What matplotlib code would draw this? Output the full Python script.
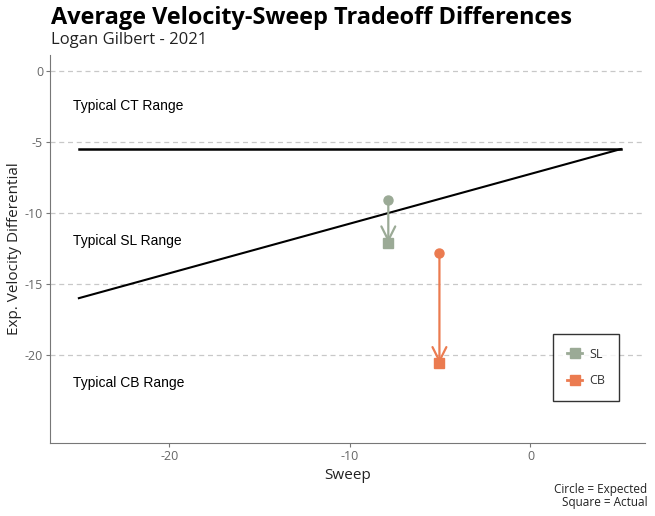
import matplotlib
matplotlib.use("Agg")
import matplotlib.pyplot as plt
from matplotlib.lines import Line2D

# Data
pitches = ["SL", "CB"]
sweep = [-7.87, -5.04]
expected = [-9.1, -12.8]
actual = [-12.1, -20.6]
colors = ["#9BAA96", "#EB7B50"]

# boundary lines between typical ranges
ct_line_x = [-25, 5]
ct_line_y = [-5.5, -5.5]
sl_line_x = [-25, 5]
sl_line_y = [-16.0, -5.5]

range_labels = ["Typical CT Range", "Typical SL Range", "Typical CB Range"]
range_label_y = [-2.5, -12.0, -22.0]

plt.rcParams['font.family'] = ['Open Sans', 'DejaVu Sans']
plt.rcParams['axes.unicode_minus'] = False

fig = plt.figure(figsize=(6.55, 5.16), dpi=100)
ax = fig.add_axes([0.0763, 0.1415, 0.9087, 0.752])

ax.set_xlim(-26.6, 6.35)
ax.set_ylim(-26.2, 1.13)

ax.plot(ct_line_x, ct_line_y, color="black", lw=1.8)
ax.plot(sl_line_x, sl_line_y, color="black", lw=1.5)

for lab, y in zip(range_labels, range_label_y):
    ax.text(-25.3, y, lab, fontsize=10, family=['Liberation Sans'], va="center", ha="left")

for i in range(len(pitches)):
    ax.annotate("", xy=(sweep[i], actual[i]), xytext=(sweep[i], expected[i]),
                arrowprops=dict(arrowstyle="->,head_length=1.0,head_width=0.5",
                                color=colors[i], lw=1.6, shrinkA=0, shrinkB=0))
    ax.plot(sweep[i], expected[i], "o", color=colors[i], ms=6.5)
    ax.plot(sweep[i], actual[i], "s", color=colors[i], ms=7.5)

ax.set_yticks([0, -5, -10, -15, -20])
ax.set_xticks([-20, -10, 0])
ax.grid(axis="y", color="#c8c8c8", ls=(0, (4, 3)), lw=0.9)
ax.set_axisbelow(True)
for s in ["top", "right"]:
    ax.spines[s].set_visible(False)
for s in ["left", "bottom"]:
    ax.spines[s].set_color("#777777")
ax.tick_params(colors="#777777", labelcolor="#666666", labelsize=9, length=3, pad=2)

ax.set_xlabel("Sweep", fontsize=11, color="#222222")
ax.set_ylabel("Exp. Velocity Differential", fontsize=11, color="#222222")
ax.xaxis.set_label_coords(0.5, -0.064)
ax.yaxis.set_label_coords(-0.047, 0.5)

handles = [Line2D([0], [0], color=c, marker="s", ms=7, lw=2) for c in colors]
leg = ax.legend(handles, pitches, loc="lower right", bbox_to_anchor=(0.965, 0.095),
                frameon=True, fancybox=False, edgecolor="black", fontsize=9,
                handlelength=1.2, handletextpad=0.6, borderpad=1.1, labelspacing=1.1,
                borderaxespad=0.4)
leg.get_frame().set_linewidth(1.0)
for t in leg.get_texts():
    t.set_color("#333333")

fig.text(0.078, 0.966, "Average Velocity-Sweep Tradeoff Differences", fontsize=16.9,
         fontweight="bold", va="center", ha="left")
fig.text(0.078, 0.922, "Logan Gilbert - 2021", fontsize=12, color="#222222",
         va="center", ha="left")
fig.text(0.988, 0.039, "Circle = Expected\nSquare = Actual", fontsize=8.5,
         ha="right", va="center", color="#222222", linespacing=1.0)

fig.savefig("out.png", dpi=100)
